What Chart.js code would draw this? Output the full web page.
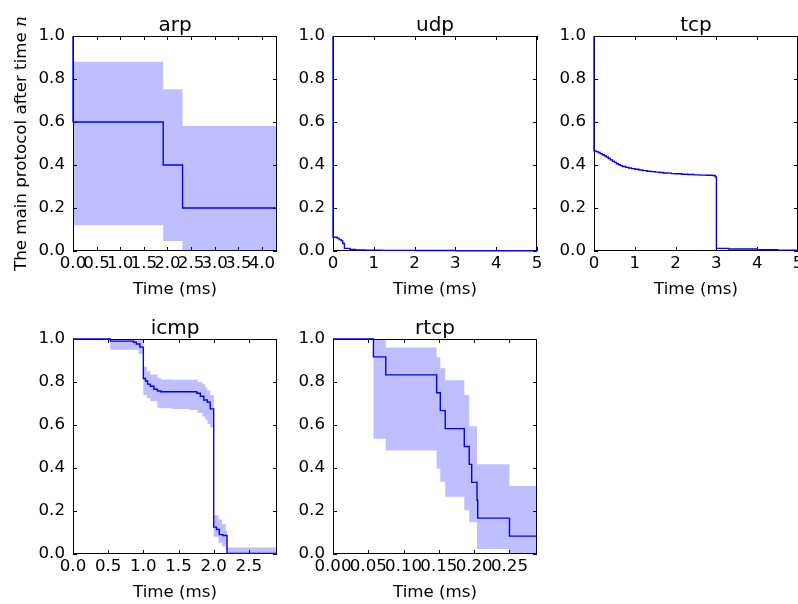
<!DOCTYPE html>
<html>
<head>
<meta charset="utf-8">
<script src="https://cdn.jsdelivr.net/npm/chart.js@4.4.1/dist/chart.umd.min.js"></script>
<style>
  html, body { margin: 0; padding: 0; background: #fff; }
  body { width: 798px; height: 604px; position: relative; overflow: hidden; }
  canvas { position: absolute; }
</style>
</head>
<body>
<script>
// ---- data (time in ms, survival fraction) ----
const arpTime  = [0, 0, 1.91, 2.32, 4.32];
const arpSurv  = [1.0, 0.6, 0.4, 0.2, 0.2];
const arpBandTime = [0, 1.91, 2.32, 4.32];
const arpUpper = [0.88, 0.752, 0.581, 0.581];
const arpLower = [0.12, 0.047, 0.0, 0.0];
const arpTicks = [0, 0.5, 1.0, 1.5, 2.0, 2.5, 3.0, 3.5, 4.0];
const arpLabels = ['0.0', '0.5', '1.0', '1.5', '2.0', '2.5', '3.0', '3.5', '4.0'];

const udpTime = [0, 0, 0.1, 0.15, 0.2, 0.24, 0.28, 0.42, 0.55, 0.8, 1.2, 2.0, 3.0, 4.0, 5.0];
const udpSurv = [1.0, 0.064, 0.06, 0.053, 0.047, 0.035, 0.012, 0.007, 0.005, 0.004, 0.003, 0.002, 0.0015, 0.001, 0.001];

const tcpTime = [0, 0, 0.05, 0.1, 0.15, 0.2, 0.25, 0.3, 0.35, 0.4, 0.45, 0.5, 0.55, 0.6, 0.65, 0.7, 0.78, 0.85, 0.92, 1.0,
  1.1, 1.2, 1.3, 1.4, 1.5, 1.6, 1.7, 1.8, 1.9, 2.0, 2.15, 2.3, 2.45, 2.6, 2.75, 2.9, 2.97, 3.0, 3.3, 4.0, 4.5, 5.0];
const tcpSurv = [1.0, 0.465, 0.462, 0.458, 0.453, 0.448, 0.443, 0.437, 0.43, 0.424, 0.418, 0.412, 0.406, 0.401, 0.397, 0.393, 0.389, 0.386, 0.383, 0.38,
  0.377, 0.374, 0.371, 0.369, 0.367, 0.365, 0.363, 0.362, 0.36, 0.359, 0.357, 0.356, 0.354, 0.353, 0.352, 0.351, 0.345, 0.012, 0.009, 0.006, 0.004, 0.003];

const intTicks = [0, 1, 2, 3, 4, 5];
const intLabels = ['0', '1', '2', '3', '4', '5'];

const icmpTime = [0, 0.53, 0.86, 0.9, 0.95, 1.0, 1.03, 1.06, 1.1, 1.15, 1.2, 1.25, 1.76, 1.81, 1.86, 1.91, 1.95, 2.0, 2.04, 2.08, 2.13, 2.19, 2.9];
const icmpSurv = [1.0, 0.99, 0.985, 0.977, 0.962, 0.816, 0.805, 0.79, 0.78, 0.766, 0.758, 0.755, 0.748, 0.734, 0.716, 0.706, 0.675, 0.125, 0.114, 0.09, 0.086, 0.003, 0.003];
const icmpBandTime = [0, 0.53, 0.93, 1.0, 1.05, 1.1, 1.2, 1.25, 1.4, 1.65, 1.77, 1.84, 1.88, 1.91, 1.95, 2.0, 2.07, 2.12, 2.17, 2.19, 2.9];
const icmpUpper = [1.0, 1.0, 1.0, 0.872, 0.85, 0.835, 0.82, 0.812, 0.81, 0.81, 0.8, 0.79, 0.775, 0.76, 0.74, 0.18, 0.16, 0.14, 0.11, 0.03, 0.03];
const icmpLower = [1.0, 0.95, 0.93, 0.74, 0.725, 0.71, 0.68, 0.678, 0.675, 0.67, 0.656, 0.64, 0.625, 0.605, 0.59, 0.08, 0.05, 0.035, 0.02, 0.0, 0.0];
const icmpTicks = [0, 0.5, 1.0, 1.5, 2.0, 2.5];
const icmpLabels = ['0.0', '0.5', '1.0', '1.5', '2.0', '2.5'];

const rtcpTime = [0, 0.0573, 0.0748, 0.1468, 0.152, 0.159, 0.186, 0.193, 0.1965, 0.204, 0.205, 0.25, 0.289];
const rtcpSurv = [1.0, 0.917, 0.833, 0.75, 0.667, 0.583, 0.5, 0.417, 0.333, 0.25, 0.167, 0.083, 0.083];
const rtcpBandTime = [0, 0.0573, 0.0748, 0.1468, 0.152, 0.159, 0.186, 0.193, 0.1965, 0.204, 0.25, 0.289];
const rtcpUpper = [1.0, 1.0, 0.961, 0.914, 0.864, 0.808, 0.739, 0.594, 0.594, 0.417, 0.316, 0.316];
const rtcpLower = [1.0, 0.536, 0.481, 0.398, 0.336, 0.266, 0.203, 0.148, 0.148, 0.023, 0.0, 0.0];
const rtcpTicks = [0, 0.05, 0.10, 0.15, 0.20, 0.25];
const rtcpLabels = ['0.00', '0.05', '0.10', '0.15', '0.20', '0.25'];

const yTicks = [0, 0.2, 0.4, 0.6, 0.8, 1.0];
const yLabels = ['0.0', '0.2', '0.4', '0.6', '0.8', '1.0'];

// ---- drawing ----
Chart.defaults.font.family = 'DejaVu Sans';
Chart.defaults.font.size = 16.67;
Chart.defaults.color = '#000';

const zip = (xs, ys) => xs.map((x, i) => ({ x: x, y: ys[i] }));

// matplotlib-like box with inward ticks on all four sides, drawn under the data
const framePlugin = {
  id: 'frame',
  beforeDatasetsDraw(chart) {
    const { ctx, chartArea: a, scales: { x, y } } = chart;
    ctx.save();
    ctx.strokeStyle = '#000';
    ctx.lineWidth = 1;
    ctx.beginPath();
    x.ticks.forEach(t => {
      const px = Math.round(x.getPixelForValue(t.value)) + 0.5;
      ctx.moveTo(px, a.bottom); ctx.lineTo(px, a.bottom - 4);
      ctx.moveTo(px, a.top); ctx.lineTo(px, a.top + 4);
    });
    y.ticks.forEach(t => {
      const py = Math.round(y.getPixelForValue(t.value)) + 0.5;
      ctx.moveTo(a.left, py); ctx.lineTo(a.left + 4, py);
      ctx.moveTo(a.right, py); ctx.lineTo(a.right - 4, py);
    });
    ctx.stroke();
    ctx.strokeRect(a.left + 0.5, a.top + 0.5, a.right - a.left - 1, a.bottom - a.top - 1);
    ctx.restore();
  },
  afterDraw(chart, args, opts) {
    const { ctx, chartArea: a } = chart;
    ctx.save();
    ctx.fillStyle = '#000';
    ctx.textAlign = 'center';
    ctx.textBaseline = 'alphabetic';
    const cx = (a.left + a.right) / 2;
    ctx.font = '20px "DejaVu Sans"';
    ctx.fillText(opts.title, cx, a.top - 5);
    ctx.font = '16.67px "DejaVu Sans"';
    ctx.fillText('Time (ms)', cx, a.bottom + 43);

    if (opts.ylabel) {
      const main = 'The main protocol after time ';
      ctx.translate(26, (a.top + a.bottom) / 2);
      ctx.rotate(-Math.PI / 2);
      ctx.font = '16.67px "DejaVu Sans"';
      const w1 = ctx.measureText(main).width;
      ctx.font = 'italic 17px "DejaVu Serif"';
      const w2 = ctx.measureText('n').width;
      const start = -(w1 + w2) / 2;
      ctx.textAlign = 'left';
      ctx.font = '16.67px "DejaVu Sans"';
      ctx.fillText(main, start, 0);
      ctx.font = 'italic 17px "DejaVu Serif"';
      ctx.fillText('n', start + w1, 0);
    }
    ctx.restore();
  }
};

function panel(p) {
  const W = 204, H = 215;
  const c = document.createElement('canvas');
  const w = W + p.ax + p.rp, h = H + p.top + 60;
  c.width = w; c.height = h;
  c.style.left = (p.L - p.ax) + 'px';
  c.style.top = (p.T - p.top) + 'px';
  c.style.width = w + 'px';
  c.style.height = h + 'px';
  document.body.appendChild(c);

  const datasets = [{
    data: zip(p.time, p.surv),
    borderColor: '#0000ff',
    borderWidth: 1.4,
    stepped: 'before',
    pointRadius: 0,
    fill: false,
    clip: 2
  }];
  if (p.bandTime) {
    datasets.push({
      data: zip(p.bandTime, p.upper),
      borderColor: 'rgba(0,0,0,0)',
      borderWidth: 0,
      backgroundColor: 'rgba(0,0,255,0.25)',
      stepped: 'before',
      pointRadius: 0,
      fill: '+1'
    }, {
      data: zip(p.bandTime, p.lower),
      borderColor: 'rgba(0,0,0,0)',
      borderWidth: 0,
      stepped: 'before',
      pointRadius: 0,
      fill: false
    });
  }

  new Chart(c, {
    type: 'line',
    data: { datasets: datasets },
    options: {
      responsive: false,
      animation: false,
      events: [],
      layout: { padding: { left: 0, top: p.top, right: p.rp, bottom: 0 } },
      plugins: {
        legend: { display: false },
        tooltip: { enabled: false },
        frame: { title: p.title, ylabel: p.ylabel }
      },
      scales: {
        x: {
          type: 'linear',
          min: 0,
          max: p.xmax,
          grid: { display: false, drawTicks: false },
          border: { display: false },
          afterBuildTicks: s => { s.ticks = p.xTicks.map(v => ({ value: v })); },
          ticks: {
            callback: (v, i) => p.xLabels[i],
            autoSkip: false,
            maxRotation: 0,
            minRotation: 0,
            padding: 3
          },
          afterFit: s => { s.height = 60; s.paddingLeft = 0; s.paddingRight = 0; }
        },
        y: {
          type: 'linear',
          min: 0,
          max: 1,
          grid: { display: false, drawTicks: false },
          border: { display: false },
          afterBuildTicks: s => { s.ticks = yTicks.map(v => ({ value: v })); },
          ticks: {
            callback: (v, i) => yLabels[i],
            autoSkip: false,
            padding: 8
          },
          afterFit: s => { s.width = p.ax; s.paddingTop = 0; s.paddingBottom = 0; }
        }
      }
    },
    plugins: [framePlugin]
  });
}

panel({ title: 'arp', ylabel: true, L: 73, T: 36, ax: 73, top: 36, rp: 14, xmax: 4.32,
  time: arpTime, surv: arpSurv, bandTime: arpBandTime, upper: arpUpper, lower: arpLower,
  xTicks: arpTicks, xLabels: arpLabels });
panel({ title: 'udp', L: 333, T: 36, ax: 60, top: 36, rp: 14, xmax: 5,
  time: udpTime, surv: udpSurv, xTicks: intTicks, xLabels: intLabels });
panel({ title: 'tcp', L: 594, T: 36, ax: 60, top: 36, rp: 0, xmax: 5,
  time: tcpTime, surv: tcpSurv, xTicks: intTicks, xLabels: intLabels });
panel({ title: 'icmp', L: 73, T: 339, ax: 73, top: 40, rp: 14, xmax: 2.9,
  time: icmpTime, surv: icmpSurv, bandTime: icmpBandTime, upper: icmpUpper, lower: icmpLower,
  xTicks: icmpTicks, xLabels: icmpLabels });
panel({ title: 'rtcp', L: 333, T: 339, ax: 60, top: 40, rp: 14, xmax: 0.289,
  time: rtcpTime, surv: rtcpSurv, bandTime: rtcpBandTime, upper: rtcpUpper, lower: rtcpLower,
  xTicks: rtcpTicks, xLabels: rtcpLabels });
</script>
</body>
</html>
